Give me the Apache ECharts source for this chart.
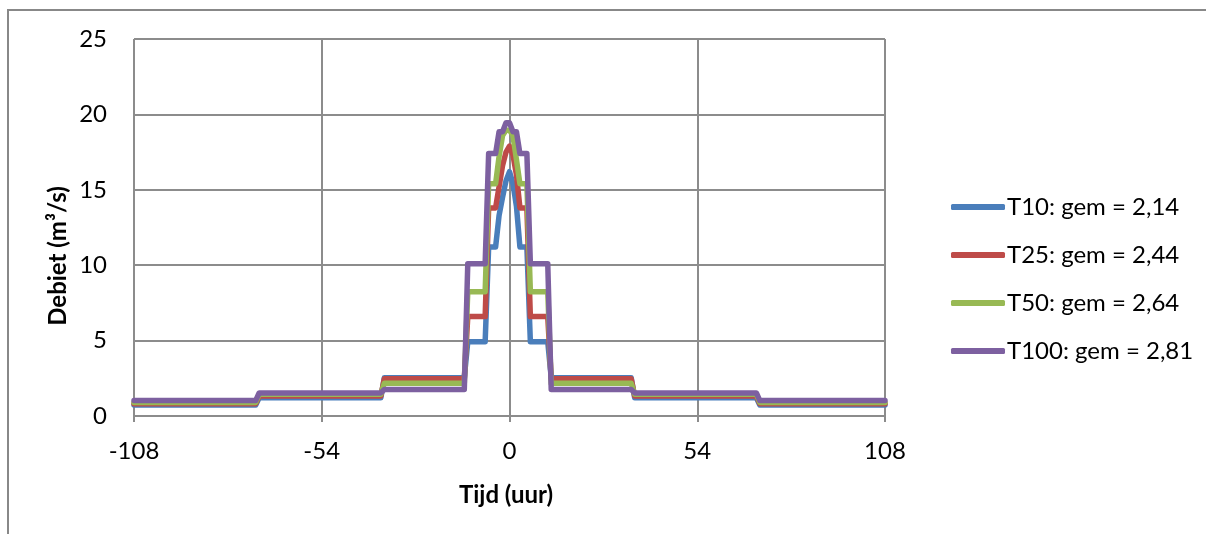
<!DOCTYPE html>
<html>
<head>
<meta charset="utf-8">
<script src="https://cdn.jsdelivr.net/npm/echarts@6/dist/echarts.min.js"></script>
<style>
  html, body { margin: 0; padding: 0; background: #ffffff; }
  #chart { width: 1206px; height: 534px; }
</style>
</head>
<body>
<div id="chart"></div>
<script>
// Hydrograph corner points: time in hours, discharge in m3/s
const hours = [-108, -73, -72, -37, -36, -13, -12, -7, -6, -4, -3, -2, -1, 0, 1, 2, 3, 5, 6, 11, 12, 35, 36, 71, 72, 108];
const t10   = [0.73, 0.73, 1.21, 1.21, 2.53, 2.53, 4.93, 4.93, 11.2, 11.2, 13.3, 14.5, 15.6, 16.2, 15.4, 13.9, 11.2, 11.2, 4.93, 4.93, 2.53, 2.53, 1.21, 1.21, 0.73, 0.73];
const t25   = [0.82, 0.82, 1.33, 1.33, 2.47, 2.47, 6.59, 6.59, 13.8, 13.8, 15.2, 16.6, 17.5, 17.9, 17.3, 16.0, 13.8, 13.8, 6.59, 6.59, 2.47, 2.47, 1.33, 1.33, 0.82, 0.82];
const t50   = [0.90, 0.90, 1.44, 1.44, 2.17, 2.17, 8.24, 8.24, 15.4, 15.4, 17.2, 18.6, 18.95, 18.95, 18.6, 17.0, 15.4, 15.4, 8.24, 8.24, 2.17, 2.17, 1.44, 1.44, 0.90, 0.90];
const t100  = [1.02, 1.02, 1.53, 1.53, 1.76, 1.76, 10.1, 10.1, 17.4, 17.4, 18.85, 18.85, 19.45, 19.45, 18.85, 18.85, 17.4, 17.4, 10.1, 10.1, 1.76, 1.76, 1.53, 1.53, 1.02, 1.02];

const seriesNames = ['T10: gem = 2,14', 'T25: gem = 2,44', 'T50: gem = 2,64', 'T100: gem = 2,81'];
const seriesValues = [t10, t25, t50, t100];
const seriesColors = ['#4A7EBB', '#BE4B48', '#98B954', '#7D60A0'];

const xAxisTitle = 'Tijd (uur)';
const yAxisTitle = 'Debiet (m³/s)';

const FONT = 'Lato';
const GRID_GRAY = '#8c8c8c';

const chart = echarts.init(document.getElementById('chart'), null, { renderer: 'canvas' });

const series = seriesNames.map((name, i) => ({
  name: name,
  type: 'line',
  data: hours.map((h, k) => [h, seriesValues[i][k]]),
  showSymbol: false,
  symbol: 'none',
  animation: false,
  lineStyle: { color: seriesColors[i], width: 5.5, cap: 'round', join: 'round' },
  itemStyle: { color: seriesColors[i] },
  z: 2 + i
}));

chart.setOption({
  animation: false,
  backgroundColor: '#ffffff',
  grid: { left: 134, top: 39, right: 321, bottom: 118, containLabel: false },
  xAxis: {
    type: 'value',
    min: -108,
    max: 108,
    interval: 54,
    axisLine: { show: true, onZero: false, lineStyle: { color: GRID_GRAY, width: 2 } },
    axisTick: { show: true, inside: false, length: 6, lineStyle: { color: GRID_GRAY, width: 2 } },
    axisLabel: { color: '#000', fontFamily: FONT, fontSize: 24, margin: 23 },
    splitLine: { show: true, lineStyle: { color: GRID_GRAY, width: 2 } }
  },
  yAxis: {
    type: 'value',
    min: 0,
    max: 25,
    interval: 5,
    axisLine: { show: true, lineStyle: { color: GRID_GRAY, width: 2 } },
    axisTick: { show: true, inside: false, length: 6, lineStyle: { color: GRID_GRAY, width: 2 } },
    axisLabel: { color: '#000', fontFamily: FONT, fontSize: 24, margin: 27 },
    splitLine: { show: true, lineStyle: { color: GRID_GRAY, width: 2 } }
  },
  legend: {
    orient: 'vertical',
    left: 946,
    top: 188,
    itemWidth: 54,
    itemHeight: 6,
    itemGap: 20,
    icon: 'roundRect',
    textStyle: { color: '#000', fontFamily: FONT, fontSize: 24, lineHeight: 28, padding: [0, 0, 0, -3] },
    data: seriesNames.map((n, i) => ({ name: n, itemStyle: { color: seriesColors[i] } }))
  },
  graphic: [
    {
      type: 'rect',
      silent: true,
      shape: { x: 8, y: 10, width: 1400, height: 800 },
      style: { fill: 'none', stroke: '#888888', lineWidth: 2 },
      z: -10
    },
    {
      type: 'text',
      silent: true,
      x: 506,
      y: 495,
      style: {
        text: xAxisTitle,
        fontFamily: FONT,
        fontSize: 24,
        fontWeight: 'bold',
        fill: '#000',
        align: 'center',
        verticalAlign: 'middle'
      }
    },
    {
      type: 'text',
      silent: true,
      x: 58,
      y: 256,
      rotation: Math.PI / 2,
      style: {
        text: yAxisTitle,
        fontFamily: FONT,
        fontSize: 24,
        fontWeight: 'bold',
        fill: '#000',
        align: 'center',
        verticalAlign: 'middle'
      }
    }
  ],
  series: series
});
</script>
</body>
</html>
